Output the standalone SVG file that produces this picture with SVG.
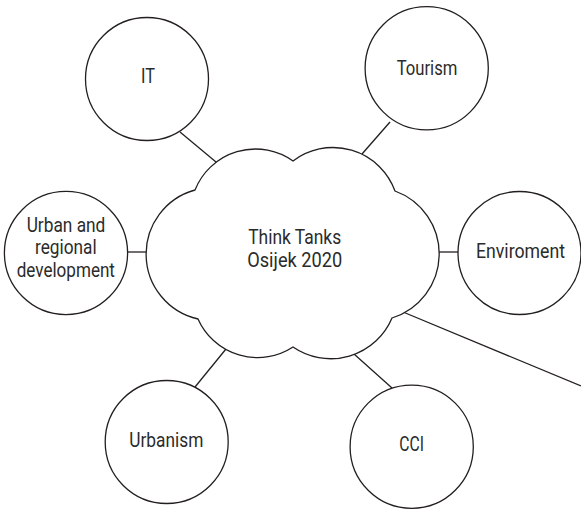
<svg xmlns="http://www.w3.org/2000/svg" width="581" height="510" viewBox="0 0 581 510">
<style>
.n{fill:#fff;stroke:#231f20;stroke-width:1.3}
.c line{stroke:#231f20;stroke-width:1.3}
text{font-family:Roboto,"Liberation Sans",sans-serif;font-size:20px;fill:#2b2b2b;text-anchor:middle}
</style>
<rect width="581" height="510" fill="#fff"/>
<g class="c" id="connectors">
<line x1="180" y1="132" x2="216" y2="162"/>
<line x1="390" y1="122" x2="362" y2="154"/>
<line x1="128" y1="252" x2="146" y2="252"/>
<line x1="439" y1="252" x2="459" y2="252"/>
<line x1="195" y1="387" x2="226" y2="349"/>
<line x1="354" y1="354" x2="392" y2="388"/>
<line x1="403" y1="312" x2="581" y2="386"/>
</g>
<g id="cloud">
<path class="n" d="M195,190 A65,65 0 0 1 293,161 A66,66 0 0 1 395,191 A67,67 0 0 1 392,318 A66.5,66.5 0 0 1 293,347 A65,65 0 0 1 198,319 A66.5,66.5 0 0 1 195,190 Z"/>
<text x="294.7" y="244" textLength="93" lengthAdjust="spacingAndGlyphs">Think Tanks</text>
<text x="294.7" y="266.7" textLength="95" lengthAdjust="spacingAndGlyphs">Osijek 2020</text>
</g>
<g id="it">
<circle class="n" cx="147" cy="79" r="61.5"/>
<text x="148" y="83.3" textLength="14" lengthAdjust="spacingAndGlyphs">IT</text>
</g>
<g id="tourism">
<circle class="n" cx="426.7" cy="68.3" r="61.6"/>
<text x="427" y="75" textLength="60.7" lengthAdjust="spacingAndGlyphs">Tourism</text>
</g>
<g id="urban">
<circle class="n" cx="66" cy="253" r="61.6"/>
<text x="66" y="231.7" textLength="78.7" lengthAdjust="spacingAndGlyphs">Urban and</text>
<text x="65.8" y="253.5" textLength="61.7" lengthAdjust="spacingAndGlyphs">regional</text>
<text x="65.8" y="276.5" textLength="98.3" lengthAdjust="spacingAndGlyphs">development</text>
</g>
<g id="enviroment">
<circle class="n" cx="519.5" cy="253" r="61.5"/>
<text x="520.5" y="257.7" textLength="89" lengthAdjust="spacingAndGlyphs">Enviroment</text>
</g>
<g id="urbanism">
<circle class="n" cx="166.7" cy="442" r="61.5"/>
<text x="166.3" y="446.7" textLength="74" lengthAdjust="spacingAndGlyphs">Urbanism</text>
</g>
<g id="cci">
<circle class="n" cx="411.7" cy="446.7" r="61.6"/>
<text x="411.7" y="450.7" textLength="24.7" lengthAdjust="spacingAndGlyphs">CCI</text>
</g>
</svg>
